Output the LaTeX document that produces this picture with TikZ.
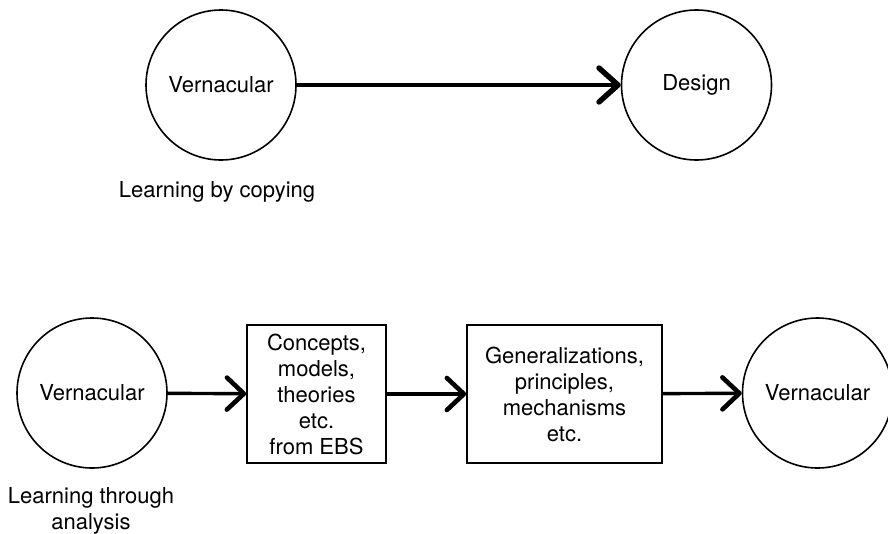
\documentclass[tikz,border=0pt]{standalone}
\usepackage{fontspec}
\setmainfont{TeX Gyre Heros}
\usetikzlibrary{arrows.meta}
\tikzset{
  txt/.style={font=\fontsize{22}{26}\selectfont, align=center},
  bubble/.style={txt, circle, draw, line width=1.6pt, minimum size=150pt, inner sep=0pt},
  box/.style={txt, rectangle, draw, line width=1.6pt, inner sep=0pt},
  flow/.style={line width=3.4pt, -{Straight Barb[length=17pt, width=32pt, line width=4.6pt, line cap=round, line join=round]}},
  bigflow/.style={line width=4.6pt, -{Straight Barb[length=19pt, width=34pt, line width=5.4pt, line cap=round, line join=round]}},
}
\begin{document}
\begin{tikzpicture}[x=1pt, y=-1pt]
  \useasboundingbox (0,0) rectangle (888,533);

  % upper chain: copying
  \node[bubble] (v1) at (221,85) {Vernacular};
  \node[bubble] (des) at (696.5,85) {Design};
  \draw[bigflow] (v1) -- (des);
  \node[txt, anchor=base] (l1) at (217,197) {Learning by copying};

  % lower chain: analysis
  \node[bubble] (v2) at (92,393) {Vernacular};
  \node[box, minimum width=139pt, minimum height=138pt] (b1) at (316.5,394)
    {Concepts,\\models,\\theories\\etc.\\from EBS};
  \node[box, minimum width=195pt, minimum height=138pt] (b2) at (564.5,394)
    {Generalizations,\\principles,\\mechanisms\\etc.};
  \node[bubble] (v3) at (817.5,393) {Vernacular};
  \draw[flow] (v2) -- (b1);
  \draw[flow] (b1) -- (b2);
  \draw[flow] (b2) -- (v3);
  \node[txt, anchor=base] (l2) at (91,529) {Learning through\\analysis};
\end{tikzpicture}
\end{document}
